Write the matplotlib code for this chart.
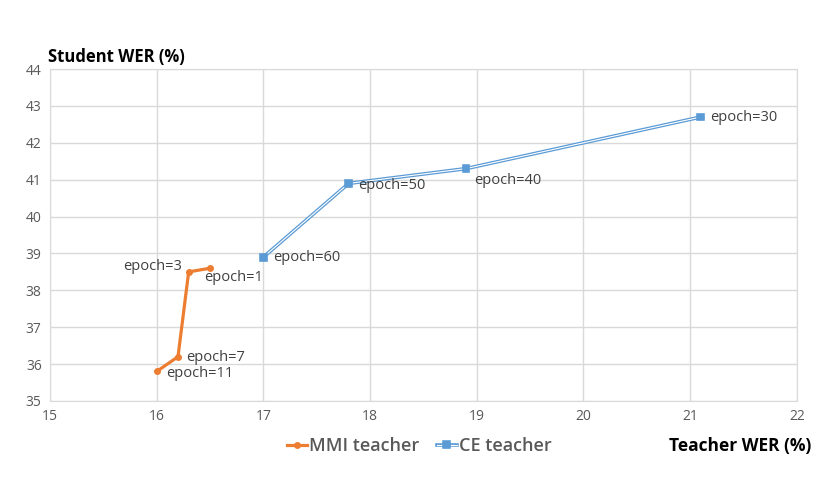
import matplotlib.pyplot as plt
import matplotlib.patheffects as pe

plt.rcParams['font.family'] = ['Open Sans', 'DejaVu Sans']

mmi_x = [16.0, 16.2, 16.3, 16.5]
mmi_y = [35.8, 36.2, 38.5, 38.6]
mmi_lab = ['epoch=11', 'epoch=7', 'epoch=3', 'epoch=1']

ce_x = [17.0, 17.8, 18.9, 21.1]
ce_y = [38.9, 40.9, 41.3, 42.7]
ce_lab = ['epoch=60', 'epoch=50', 'epoch=40', 'epoch=30']

orange = '#ED7D31'
blue = '#5B9BD5'
grey = '#595959'

fig = plt.figure(figsize=(8.3, 5.04), dpi=100)
ax = fig.add_axes([0.0602, 0.2044, 0.8998, 0.6586])

ax.plot(mmi_x, mmi_y, color=orange, lw=2.3, marker='o', ms=4,
        label='MMI teacher', zorder=3)
ax.plot(ce_x, ce_y, color='white', lw=0.8, marker='s', ms=3.5, mfc=blue, mec=blue,
        label='CE teacher', zorder=3,
        path_effects=[pe.Stroke(linewidth=2.6, foreground=blue), pe.Normal()])

# label offsets in pixels (dx, dy) from the point, text centred vertically
mmi_off = [(9, -2), (8, -1), (-7, 5), (-6, -9)]
mmi_ha = ['left', 'left', 'right', 'left']
for x, y, t, o, h in zip(mmi_x, mmi_y, mmi_lab, mmi_off, mmi_ha):
    ax.annotate(t, (x, y), xytext=o, textcoords='offset pixels', ha=h,
                va='center', fontsize=10.5, color='#404040')
ce_off = [(10, 0), (9, -2), (8, -12), (9, -1)]
for x, y, t, o in zip(ce_x, ce_y, ce_lab, ce_off):
    ax.annotate(t, (x, y), xytext=o, textcoords='offset pixels', ha='left',
                va='center', fontsize=10.5, color='#404040')

ax.set_xlim(15, 22)
ax.set_ylim(35, 44)
ax.set_xticks(range(15, 23))
ax.set_yticks(range(35, 45))
ax.grid(True, color='#D9D9D9', lw=1)
ax.set_axisbelow(True)
for s in ax.spines.values():
    s.set_color('#D9D9D9')
ax.tick_params(length=0, labelsize=10, labelcolor=grey, pad=6)

fig.text(0.058, 0.887, 'Student WER (%)', fontsize=12, fontweight='bold',
         ha='left', va='center')
fig.text(0.978, 0.115, 'Teacher WER (%)', fontsize=12.5, fontweight='bold',
         ha='right', va='center')

fig.legend(loc='center', bbox_to_anchor=(0.505, 0.115), ncol=2, frameon=False,
           handlelength=1.1, handletextpad=0.1, columnspacing=1.0,
           labelcolor=grey, prop={'weight': 'semibold', 'size': 13})

fig.savefig('out.png', dpi=100)
